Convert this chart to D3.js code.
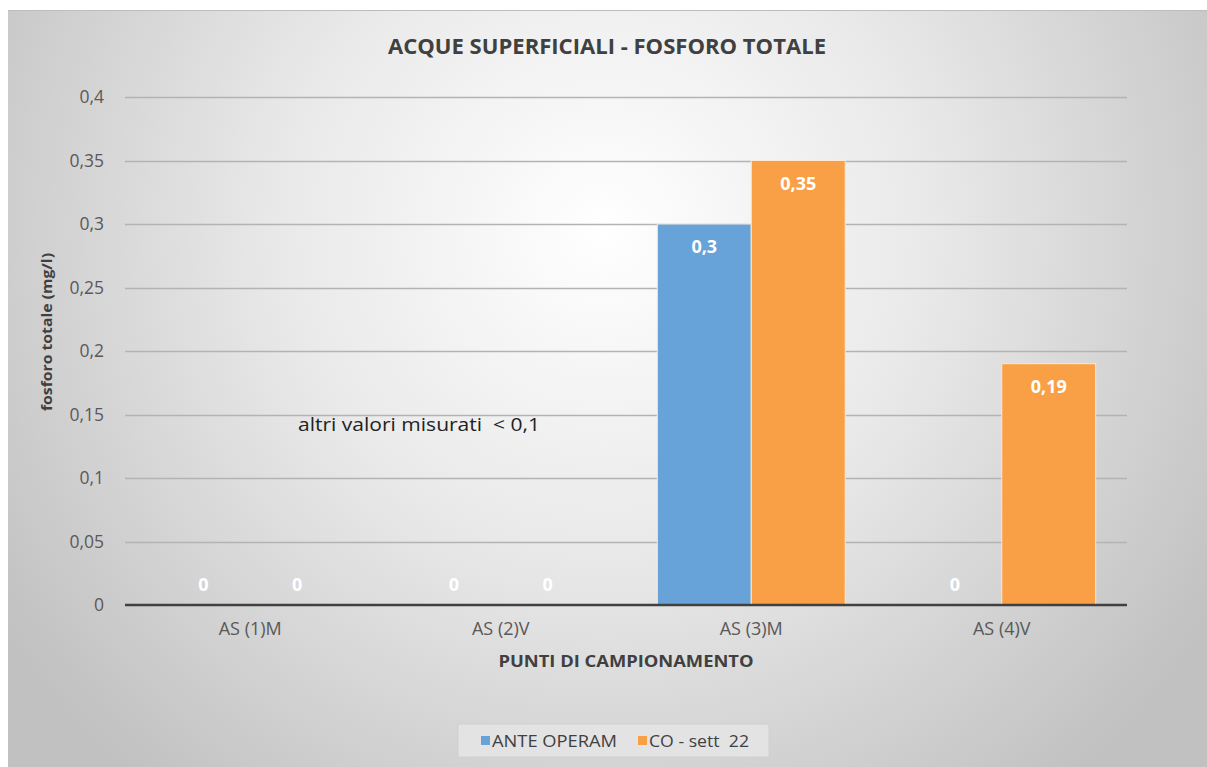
<!DOCTYPE html>
<html lang="it">
<head>
<meta charset="utf-8">
<script src="https://d3js.org/d3.v7.min.js"></script>
<title>Acque superficiali - fosforo totale</title>
<style>
  body { margin: 0; background: #fff; }
  svg { display: block; }
</style>
</head>
<body>
<div id="chart"></div>
<script>
  const categories = ["AS (1)M", "AS (2)V", "AS (3)M", "AS (4)V"]
  const seriesNames = ["ANTE OPERAM", "CO - sett  22"]
  const anteOperam = [0, 0, 0.3, 0]
  const coSett22 = [0, 0, 0.35, 0.19]
  const yTicks = [0, 0.05, 0.1, 0.15, 0.2, 0.25, 0.3, 0.35, 0.4]

  const width = 1207
  const height = 767
  const margin = { top: 97, left: 125, right: 80, bottom: 162 }
  const fmt = v => String(v).replace(".", ",")
  const colors = ["#67a2d8", "#f99f45"]
  const font = "Open Sans, Liberation Sans, sans-serif"

  const svg = d3.select("#chart").append("svg")
    .attr("width", width)
    .attr("height", height)

  // gray radial background, like the Excel chart area
  const defs = svg.append("defs")
  const grad = defs.append("radialGradient")
    .attr("id", "bg")
    .attr("gradientUnits", "userSpaceOnUse")
    .attr("cx", 604).attr("cy", 230).attr("r", 720)
  grad.append("stop").attr("offset", "0%").attr("stop-color", "#ffffff")
  grad.append("stop").attr("offset", "45%").attr("stop-color", "#e9e9e9")
  grad.append("stop").attr("offset", "100%").attr("stop-color", "#c1c1c1")

  svg.append("rect")
    .attr("x", 8).attr("y", 10)
    .attr("width", width - 8).attr("height", height - 10)
    .attr("fill", "url(#bg)")
  svg.append("line")
    .attr("x1", 8).attr("x2", width).attr("y1", 10.5).attr("y2", 10.5)
    .attr("stroke", "#bdbdbd")

  const x = d3.scaleBand()
    .domain(categories)
    .range([margin.left, width - margin.right])
    .paddingInner(0.25)
    .paddingOuter(0.125)

  const xSub = d3.scaleBand()
    .domain(seriesNames)
    .range([0, x.bandwidth()])

  const y = d3.scaleLinear()
    .domain([0, 0.4])
    .range([height - margin.bottom, margin.top])

  // gridlines
  svg.append("g")
    .selectAll("line")
    .data(yTicks.filter(t => t > 0))
    .join("line")
    .attr("x1", margin.left).attr("x2", width - margin.right)
    .attr("y1", d => Math.round(y(d)) + 0.5).attr("y2", d => Math.round(y(d)) + 0.5)
    .attr("stroke", "#b3b3b3")
    .attr("stroke-width", 1.5)

  // y axis labels
  svg.append("g")
    .attr("transform", `translate(${margin.left - 18},0)`)
    .call(d3.axisLeft(y).tickValues(yTicks).tickFormat(fmt).tickSize(0))
    .call(g => g.select(".domain").remove())
    .call(g => g.selectAll("text")
      .attr("font-family", font)
      .attr("font-size", 17.5)
      .attr("fill", "#595959"))

  // bars
  const rows = categories.map((c, i) => ({ cat: c, vals: [anteOperam[i], coSett22[i]] }))
  const groups = svg.append("g")
    .selectAll("g")
    .data(rows)
    .join("g")
    .attr("transform", d => `translate(${x(d.cat)},0)`)

  groups.selectAll("rect")
    .data(d => d.vals.map((v, j) => ({ v, s: seriesNames[j], j })))
    .join("rect")
    .attr("x", d => xSub(d.s))
    .attr("y", d => y(d.v))
    .attr("width", xSub.bandwidth())
    .attr("height", d => y(0) - y(d.v))
    .attr("fill", d => colors[d.j])
    .attr("stroke", d => d.v > 0 ? "#fbe9d6" : "none")
    .attr("stroke-width", 1)

  groups.selectAll("text")
    .data(d => d.vals.map((v, j) => ({ v, s: seriesNames[j] })))
    .join("text")
    .attr("x", d => xSub(d.s) + xSub.bandwidth() / 2)
    .attr("y", d => d.v > 0 ? y(d.v) + 29 : y(0) - 14)
    .attr("text-anchor", "middle")
    .attr("font-family", font)
    .attr("font-weight", "bold")
    .attr("font-size", 18)
    .attr("fill", "#ffffff")
    .text(d => fmt(d.v))

  // baseline
  svg.append("line")
    .attr("x1", margin.left).attr("x2", width - margin.right)
    .attr("y1", y(0)).attr("y2", y(0))
    .attr("stroke", "#404040")
    .attr("stroke-width", 2.5)

  // x axis labels
  svg.append("g")
    .attr("transform", `translate(0,${y(0) + 14})`)
    .call(d3.axisBottom(x).tickSize(0))
    .call(g => g.select(".domain").remove())
    .call(g => g.selectAll("text")
      .attr("font-family", font)
      .attr("font-size", 18)
      .attr("fill", "#595959"))

  // titles
  svg.append("text")
    .attr("x", 607).attr("y", 54)
    .attr("text-anchor", "middle")
    .attr("font-family", font)
    .attr("font-weight", "bold")
    .attr("font-size", 21)
    .attr("textLength", 438)
    .attr("lengthAdjust", "spacingAndGlyphs")
    .attr("fill", "#404040")
    .text("ACQUE SUPERFICIALI - FOSFORO TOTALE")

  svg.append("text")
    .attr("x", 626).attr("y", 667)
    .attr("text-anchor", "middle")
    .attr("font-family", font)
    .attr("font-weight", "bold")
    .attr("font-size", 16)
    .attr("textLength", 255)
    .attr("lengthAdjust", "spacingAndGlyphs")
    .attr("fill", "#404040")
    .text("PUNTI DI CAMPIONAMENTO")

  svg.append("text")
    .attr("transform", `translate(52,332) rotate(-90)`)
    .attr("text-anchor", "middle")
    .attr("font-family", font)
    .attr("font-weight", "bold")
    .attr("font-size", 15)
    .attr("textLength", 158)
    .attr("lengthAdjust", "spacingAndGlyphs")
    .attr("fill", "#404040")
    .text("fosforo totale (mg/l)")

  // annotation
  svg.append("text")
    .attr("x", 298).attr("y", 431)
    .attr("font-family", font)
    .attr("font-size", 19)
    .attr("textLength", 242)
    .attr("lengthAdjust", "spacingAndGlyphs")
    .attr("fill", "#222222")
    .attr("xml:space", "preserve")
    .text("altri valori misurati  < 0,1")

  // legend
  const legend = svg.append("g")
  legend.append("rect")
    .attr("x", 458).attr("y", 724)
    .attr("width", 311).attr("height", 33)
    .attr("fill", "#e3e3e3")
    .attr("stroke", "#d0d0d0")
  const legendX = [481, 638]
  const legendLen = [125, 100]
  seriesNames.forEach((n, i) => {
    legend.append("rect")
      .attr("x", legendX[i]).attr("y", 736)
      .attr("width", 9).attr("height", 9)
      .attr("fill", colors[i])
    legend.append("text")
      .attr("x", legendX[i] + 11).attr("y", 747)
      .attr("font-family", font)
      .attr("font-size", 17)
      .attr("textLength", legendLen[i])
      .attr("lengthAdjust", "spacingAndGlyphs")
      .attr("fill", "#404040")
      .attr("xml:space", "preserve")
      .text(n)
  })
</script>
</body>
</html>
